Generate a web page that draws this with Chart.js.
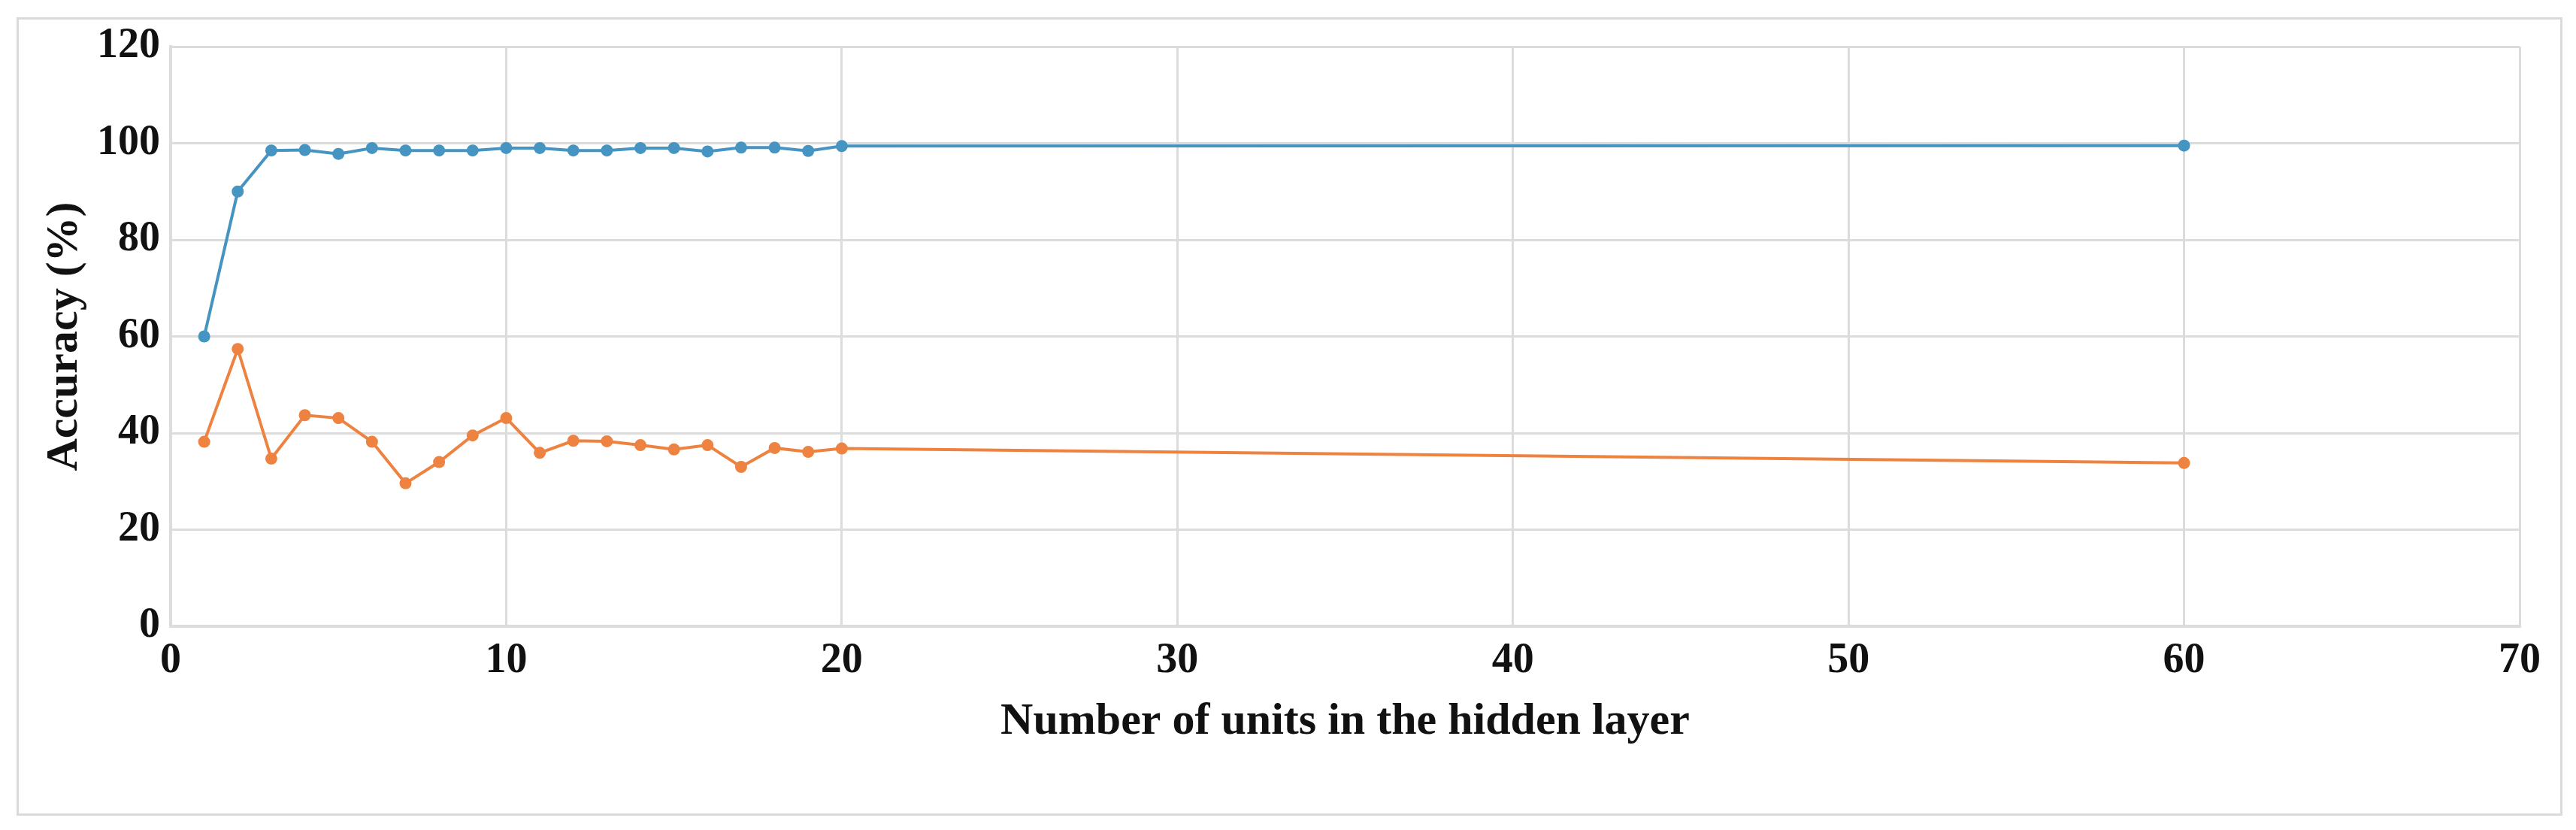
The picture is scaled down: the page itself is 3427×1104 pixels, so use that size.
<!DOCTYPE html>
<html lang="en">
<head>
  <meta charset="UTF-8">
  <title>Accuracy vs hidden units</title>
  <script src="https://cdn.jsdelivr.net/npm/chart.js"></script>
  <style>
    html, body { margin: 0; padding: 0; background: #fff; }
    body { width: 3427px; height: 1104px; position: relative; overflow: hidden; }
    #frame {
      position: absolute; left: 22px; top: 23px;
      width: 3387px; height: 1062px;
      box-sizing: border-box; border: 3px solid #dadada;
    }
    #chart { position: absolute; left: 0; top: 0; }
  </style>
</head>
<body>
  <div id="frame"></div>
  <canvas id="chart" width="3427" height="1104"></canvas>

  <script>
    // number of hidden units tested
    const units = [1, 2, 3, 4, 5, 6, 7, 8, 9, 10, 11, 12, 13, 14, 15, 16, 17, 18, 19, 20, 60];

    // blue series (upper curve)
    const accBlue = [60, 90, 98.5, 98.6, 97.8, 99.0, 98.5, 98.5, 98.5, 99.0, 99.0,
                     98.5, 98.5, 99.0, 99.0, 98.3, 99.1, 99.1, 98.4, 99.4, 99.5];

    // orange series (lower curve)
    const accOrange = [38.2, 57.4, 34.7, 43.7, 43.1, 38.2, 29.6, 34.0, 39.5, 43.1, 35.9,
                       38.4, 38.3, 37.5, 36.6, 37.5, 33.0, 36.9, 36.1, 36.8, 33.8];

    const xTicks = [0, 10, 20, 30, 40, 50, 60, 70];
    const yTicks = [0, 20, 40, 60, 80, 100, 120];

    const blueColor = '#4694c2';
    const orangeColor = '#ee8240';
    const gridColor = '#dcdcdc';
    const serif = "'Liberation Serif', 'Times New Roman', serif";

    function toPoints(xs, ys) {
      return xs.map((x, i) => ({ x: x, y: ys[i] }));
    }

    function series(values, color) {
      return {
        data: toPoints(units, values),
        borderColor: color,
        backgroundColor: color,
        pointBackgroundColor: color,
        pointBorderWidth: 0,
        pointRadius: 8,
        borderWidth: 4,
        tension: 0
      };
    }

    new Chart(document.getElementById('chart'), {
      type: 'line',
      data: {
        datasets: [series(accBlue, blueColor), series(accOrange, orangeColor)]
      },
      options: {
        responsive: false,
        animation: false,
        devicePixelRatio: 1,
        layout: { padding: { top: 62, right: 75, bottom: 0, left: 0 } },
        plugins: { legend: { display: false }, tooltip: { enabled: false } },
        scales: {
          x: {
            type: 'linear',
            min: xTicks[0],
            max: xTicks[xTicks.length - 1],
            afterBuildTicks: s => { s.ticks = xTicks.map(v => ({ value: v })); },
            afterFit: s => { s.height = 271; },
            grid: { color: gridColor, lineWidth: 3, drawTicks: false },
            border: { color: gridColor, width: 4 },
            ticks: {
              padding: 13,
              color: '#111',
              font: { family: serif, size: 56, weight: 'bold' }
            },
            title: {
              display: true,
              text: 'Number of units in the hidden layer',
              color: '#111',
              padding: { top: 0, bottom: 108 },
              font: { family: serif, size: 60, weight: 'bold' }
            }
          },
          y: {
            min: yTicks[0],
            max: yTicks[yTicks.length - 1],
            afterBuildTicks: s => { s.ticks = yTicks.map(v => ({ value: v })); },
            afterFit: s => { s.width = 227; },
            grid: { color: gridColor, lineWidth: 3, drawTicks: false },
            border: { color: gridColor, width: 4 },
            ticks: {
              padding: 14,
              color: '#111',
              font: { family: serif, size: 56, weight: 'bold' }
            },
            title: {
              display: true,
              text: 'Accuracy (%)',
              color: '#111',
              padding: { top: 50, bottom: 0 },
              font: { family: serif, size: 60, weight: 'bold' }
            }
          }
        }
      }
    });
  </script>
</body>
</html>
